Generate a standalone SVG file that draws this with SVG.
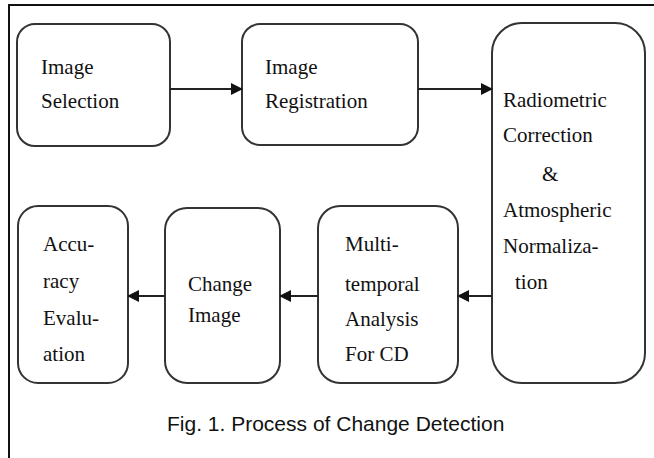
<svg xmlns="http://www.w3.org/2000/svg" width="654" height="458" viewBox="0 0 654 458">
<style>
.box{fill:#fff;stroke:#333;stroke-width:2}
.t{font-family:"Liberation Serif","Times New Roman",serif;font-size:21px;fill:#111}
.cap{font-family:"Liberation Sans",Arial,sans-serif;font-size:21px;fill:#111}
.con{stroke:#222;stroke-width:2;fill:none}
</style>
<defs>
<marker id="ah" markerWidth="12" markerHeight="12" refX="11" refY="6" orient="auto" markerUnits="userSpaceOnUse">
<path d="M0,0 L12,6 L0,12 Z" fill="#111"/>
</marker>
</defs>
<rect width="654" height="458" fill="#fff"/>
<path d="M9,458 L9,5 L654,5" fill="none" stroke="#111" stroke-width="2"/>
<g id="n1"><rect class="box" x="17" y="24" width="153" height="122" rx="18"/>
<text class="t" x="41" y="74">Image</text><text class="t" x="41" y="108">Selection</text></g>
<g id="n2"><rect class="box" x="242" y="24" width="176" height="121" rx="18"/>
<text class="t" x="265" y="74">Image</text><text class="t" x="265" y="108">Registration</text></g>
<g id="n3"><rect class="box" x="492" y="23" width="153" height="360" rx="30"/>
<text class="t" x="503" y="107">Radiometric</text>
<text class="t" x="503" y="142">Correction</text>
<text class="t" x="542" y="181">&amp;</text>
<text class="t" x="503" y="217">Atmospheric</text>
<text class="t" x="503" y="253">Normaliza-</text>
<text class="t" x="515" y="289">tion</text></g>
<g id="n4"><rect class="box" x="318" y="206" width="140" height="177" rx="22"/>
<text class="t" x="345" y="251">Multi-</text>
<text class="t" x="345" y="291">temporal</text>
<text class="t" x="345" y="326">Analysis</text>
<text class="t" x="345" y="361">For CD</text></g>
<g id="n5"><rect class="box" x="165" y="208" width="115" height="175" rx="22"/>
<text class="t" x="188" y="291">Change</text>
<text class="t" x="188" y="322">Image</text></g>
<g id="n6"><rect class="box" x="18" y="206" width="110" height="177" rx="20"/>
<text class="t" x="43" y="251">Accu-</text>
<text class="t" x="43" y="288">racy</text>
<text class="t" x="43" y="325">Evalu-</text>
<text class="t" x="43" y="361">ation</text></g>
<g id="connectors">
<line class="con" x1="170" y1="89" x2="242" y2="89" marker-end="url(#ah)"/>
<line class="con" x1="418" y1="89" x2="492" y2="89" marker-end="url(#ah)"/>
<line class="con" x1="492" y1="296" x2="458" y2="296" marker-end="url(#ah)"/>
<line class="con" x1="318" y1="296" x2="280" y2="296" marker-end="url(#ah)"/>
<line class="con" x1="165" y1="296" x2="128" y2="296" marker-end="url(#ah)"/>
</g>
<text class="cap" x="167" y="431">Fig. 1. Process of Change Detection</text>
</svg>
